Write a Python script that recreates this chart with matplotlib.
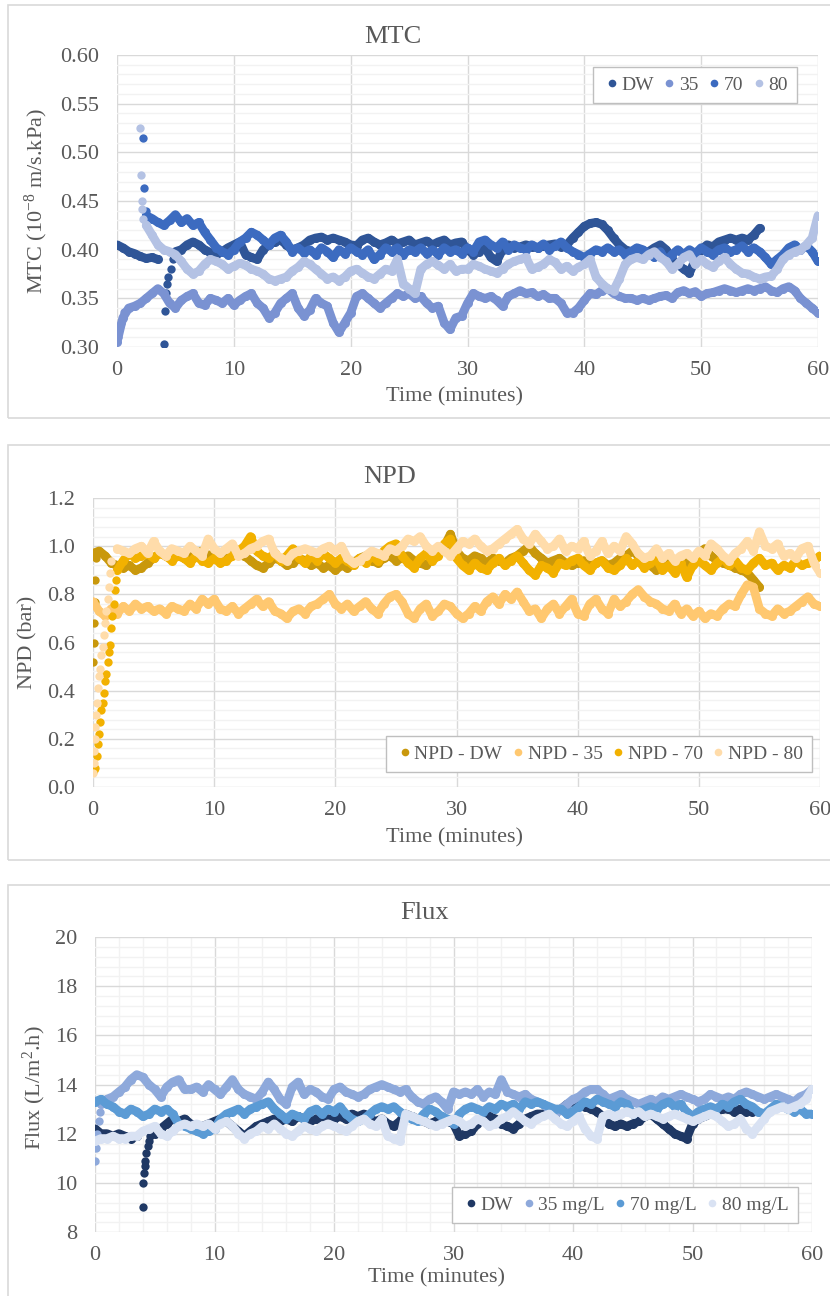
import numpy as np
import matplotlib
matplotlib.use('Agg')
import matplotlib.pyplot as plt
from matplotlib.ticker import MultipleLocator
from matplotlib.patches import Rectangle
from matplotlib.lines import Line2D

plt.rcParams['font.family'] = ['Liberation Serif', 'DejaVu Serif']
plt.rcParams['mathtext.fontset'] = 'custom'
plt.rcParams['mathtext.rm'] = 'Liberation Serif'
plt.rcParams['mathtext.it'] = 'Liberation Serif:italic'
plt.rcParams['mathtext.bf'] = 'Liberation Serif:bold'

# sampling grid, every half minute
time = np.arange(0, 60.01, 0.5)

# ---------------- MTC (10^-8 m/s.kPa) ----------------
mtc_dw = [0.405, 0.402, 0.398, 0.396, 0.393, 0.391, 0.392, 0.390, None, None,
          0.398, 0.400, 0.405, 0.408, 0.405, 0.400, 0.397, 0.395, 0.398, 0.402,
          0.405, 0.408, 0.395, 0.392, 0.390, 0.400, 0.405, 0.408, 0.410, 0.405,
          0.400, 0.402, 0.405, 0.410, 0.412, 0.413, 0.410, 0.412, 0.410, 0.408,
          0.405, 0.404, 0.410, 0.412, 0.408, 0.405, 0.407, 0.410, 0.406, 0.408,
          0.410, 0.405, 0.407, 0.409, 0.405, 0.408, 0.410, 0.405, 0.407, 0.408,
          0.400, 0.395, 0.398, 0.402, 0.392, 0.388, 0.400, 0.405, 0.402, 0.403,
          0.405, 0.403, 0.402, 0.404, 0.405, 0.406, 0.403, 0.405, 0.412, 0.418,
          0.424, 0.427, 0.428, 0.426, 0.420, 0.412, 0.405, 0.400, 0.398, 0.400,
          0.395, 0.398, 0.402, 0.405, 0.400, 0.390, 0.385, 0.380, 0.376, 0.390,
          0.400, 0.405, 0.403, 0.408, 0.410, 0.412, 0.410, 0.412, 0.410, 0.415,
          0.422]
mtc_dw_dip_t = [4.0, 4.1, 4.2, 4.3, 4.4, 4.6, 4.8]
mtc_dw_dip = [0.303, 0.337, 0.355, 0.365, 0.372, 0.380, 0.390]

mtc_35 = [0.305, 0.330, 0.340, 0.342, 0.345, 0.350, 0.355, 0.360, 0.355, 0.345,
          0.340, 0.348, 0.352, 0.355, 0.345, 0.343, 0.350, 0.348, 0.345, 0.350,
          0.343, 0.348, 0.352, 0.355, 0.345, 0.340, 0.330, 0.335, 0.345, 0.350,
          0.355, 0.340, 0.332, 0.338, 0.350, 0.345, 0.342, 0.325, 0.315, 0.325,
          0.335, 0.352, 0.355, 0.350, 0.345, 0.340, 0.345, 0.350, 0.355, 0.352,
          0.355, 0.350, 0.352, 0.345, 0.340, 0.342, 0.325, 0.318, 0.330, 0.332,
          0.345, 0.355, 0.352, 0.350, 0.352, 0.348, 0.342, 0.352, 0.355, 0.358,
          0.355, 0.356, 0.352, 0.354, 0.350, 0.350, 0.345, 0.335, 0.335, 0.340,
          0.348, 0.355, 0.354, 0.358, 0.360, 0.355, 0.352, 0.350, 0.350, 0.348,
          0.350, 0.348, 0.350, 0.352, 0.353, 0.350, 0.356, 0.358, 0.355, 0.357,
          0.352, 0.355, 0.356, 0.358, 0.360, 0.358, 0.356, 0.358, 0.360, 0.358,
          0.360, 0.362, 0.358, 0.356, 0.360, 0.362, 0.358, 0.350, 0.345, 0.340,
          0.335]
mtc_35_start_t = [0.1, 0.2, 0.3, 0.6]
mtc_35_start = [0.310, 0.318, 0.325, 0.336]

mtc_70 = [None, None, None, None, None, 0.435, 0.432, 0.428, 0.425, 0.430,
          0.436, 0.428, 0.432, 0.425, 0.428, 0.418, 0.410, 0.402, 0.398, 0.395,
          0.400, 0.408, 0.412, 0.418, 0.415, 0.410, 0.405, 0.412, 0.415, 0.408,
          0.398, 0.402, 0.397, 0.400, 0.395, 0.402, 0.398, 0.392, 0.400, 0.396,
          0.402, 0.398, 0.395, 0.400, 0.390, 0.395, 0.402, 0.398, 0.402, 0.395,
          0.400, 0.398, 0.402, 0.396, 0.400, 0.395, 0.402, 0.398, 0.400, 0.396,
          0.402, 0.398, 0.408, 0.410, 0.405, 0.402, 0.408, 0.400, 0.405, 0.402,
          0.400, 0.405, 0.402, 0.406, 0.400, 0.404, 0.408, 0.402, 0.398, 0.395,
          0.392, 0.396, 0.400, 0.398, 0.402, 0.398, 0.400, 0.395, 0.398, 0.402,
          0.400, 0.396, 0.392, 0.398, 0.388, 0.395, 0.400, 0.395, 0.400, 0.396,
          0.402, 0.398, 0.395, 0.400, 0.402, 0.398, 0.400, 0.404, 0.398, 0.402,
          0.398, 0.392, 0.385, 0.390, 0.395, 0.402, 0.405, 0.400, 0.404, 0.398,
          0.388]
mtc_70_start_t = [2.25, 2.35, 2.45]
mtc_70_start = [0.515, 0.463, 0.440]

mtc_80 = [None, None, None, None, None, 0.425, 0.415, 0.405, 0.400, 0.398,
          0.395, 0.388, 0.380, 0.375, 0.378, 0.385, 0.390, 0.388, 0.385, 0.380,
          0.383, 0.386, 0.384, 0.380, 0.378, 0.375, 0.370, 0.368, 0.370, 0.372,
          0.378, 0.382, 0.388, 0.385, 0.380, 0.375, 0.370, 0.372, 0.368, 0.372,
          0.378, 0.380, 0.376, 0.372, 0.370, 0.375, 0.380, 0.378, 0.390, 0.365,
          0.360, 0.355, 0.380, 0.385, 0.388, 0.384, 0.380, 0.385, 0.378, 0.380,
          0.380, 0.385, 0.383, 0.380, 0.378, 0.376, 0.380, 0.385, 0.388, 0.390,
          0.392, 0.380, 0.382, 0.385, 0.390, 0.387, 0.380, 0.383, 0.378, 0.382,
          0.385, 0.390, 0.372, 0.365, 0.360, 0.358, 0.370, 0.385, 0.390, 0.392,
          0.390, 0.395, 0.398, 0.392, 0.388, 0.380, 0.385, 0.392, 0.395, 0.385,
          0.390, 0.385, 0.382, 0.388, 0.392, 0.385, 0.380, 0.376, 0.375, 0.372,
          0.370, 0.372, 0.373, 0.380, 0.390, 0.395, 0.398, 0.400, 0.405, 0.412,
          0.435]
mtc_80_start_t = [2.0, 2.05, 2.1, 2.15, 2.25]
mtc_80_start = [0.525, 0.477, 0.450, 0.442, 0.432]

# ---------------- NPD (bar) ----------------
npd_dw = [0.97, 0.98, 0.96, 0.93, 0.92, 0.91, 0.92, 0.90, 0.91, 0.93,
          0.95, 0.97, 0.96, 0.98, 0.97, 0.95, 0.96, 0.97, 0.98, 0.96,
          0.97, 0.95, 0.96, 0.97, 0.98, 0.96, 0.94, 0.92, 0.91, 0.93,
          0.95, 0.94, 0.92, 0.93, 0.95, 0.94, 0.92, 0.93, 0.91, 0.92,
          0.90, 0.92, 0.91, 0.93, 0.95, 0.96, 0.94, 0.93, 0.95, 0.96,
          0.94, 0.95, 0.96, 0.94, 0.93, 0.92, 0.95, 0.97, 1.00, 1.05,
          0.98, 0.95, 0.94, 0.96, 0.95, 0.93, 0.95, 0.94, 0.93, 0.95,
          0.96, 0.98, 1.00, 0.97, 0.95, 0.93, 0.94, 0.95, 0.93, 0.92,
          0.93, 0.94, 0.92, 0.93, 0.94, 0.92, 0.93, 0.95, 0.96, 0.98,
          0.96, 0.94, 0.92, 0.90, 0.93, 0.95, 0.94, 0.92, 0.93, 0.95,
          0.97, 0.99, 0.96, 0.94, 0.93, 0.92, 0.91, 0.90, 0.89, 0.86,
          0.83]
npd_dw_start_t = [0.0, 0.05, 0.1, 0.15, 0.2, 0.25]
npd_dw_start = [0.52, 0.60, 0.68, 0.77, 0.86, 0.95]

npd_35 = [0.77, 0.73, 0.71, 0.74, 0.72, 0.75, 0.73, 0.76, 0.74, 0.75,
          0.73, 0.74, 0.72, 0.75, 0.74, 0.73, 0.76, 0.74, 0.78, 0.76,
          0.78, 0.74, 0.73, 0.75, 0.72, 0.74, 0.76, 0.78, 0.75, 0.77,
          0.73, 0.72, 0.70, 0.73, 0.74, 0.72, 0.75, 0.76, 0.78, 0.80,
          0.76, 0.74, 0.76, 0.73, 0.75, 0.77, 0.74, 0.72, 0.76, 0.79,
          0.80, 0.77, 0.72, 0.70, 0.74, 0.76, 0.71, 0.73, 0.76, 0.75,
          0.72, 0.70, 0.72, 0.75, 0.73, 0.77, 0.79, 0.76, 0.80, 0.78,
          0.81, 0.77, 0.73, 0.74, 0.70, 0.74, 0.76, 0.72, 0.75, 0.78,
          0.72, 0.71, 0.76, 0.78, 0.74, 0.72, 0.78, 0.75, 0.77, 0.80,
          0.82, 0.79, 0.77, 0.76, 0.74, 0.73, 0.76, 0.72, 0.74, 0.71,
          0.73, 0.70, 0.72, 0.71, 0.74, 0.76, 0.75, 0.80, 0.84, 0.83,
          0.74, 0.72, 0.71, 0.74, 0.72, 0.73, 0.75, 0.77, 0.79, 0.76,
          0.75]

npd_70 = [None, None, None, None, 0.90, 0.94, 0.97, 0.95, 0.96, 0.97,
          0.95, 0.97, 0.96, 0.94, 0.96, 0.95, 0.93, 0.96, 0.94, 0.93,
          0.95, 0.93, 0.94, 0.96, 0.98, 1.00, 1.04, 0.98, 0.96, 0.95,
          0.97, 0.94, 0.96, 0.99, 0.95, 0.93, 0.96, 0.94, 0.97, 0.95,
          0.93, 0.95, 0.94, 0.92, 0.95, 0.93, 0.96, 0.94, 0.98, 1.00,
          1.01, 0.96, 0.93, 0.91, 0.95, 0.97, 0.94, 0.96, 1.01, 1.03,
          0.95, 0.92, 0.90, 0.93, 0.91, 0.90, 0.93, 0.95, 0.92, 0.94,
          0.96, 0.93, 0.90, 0.88, 0.92, 0.91, 0.89, 0.93, 0.92, 0.94,
          0.95, 0.92, 0.90, 0.93, 0.94, 0.91, 0.90, 0.92, 0.95, 0.92,
          0.94, 0.91, 0.93, 0.95, 0.90, 0.92, 0.89, 0.93, 0.87, 0.92,
          0.94, 0.92, 0.90, 0.93, 0.95, 0.92, 0.94, 0.91, 0.90, 0.93,
          0.95, 0.92, 0.93, 0.90, 0.92, 0.91, 0.94, 0.92, 0.93, 0.94,
          0.96]
npd_70_start_t = [0.1, 0.2, 0.3, 0.4, 0.5, 0.6, 0.7, 0.8, 0.9, 1.0,
                  1.1, 1.2, 1.3, 1.4, 1.5, 1.6, 1.7, 1.8, 1.9]
npd_70_start = [0.07, 0.08, 0.13, 0.18, 0.22, 0.27, 0.32, 0.35, 0.39, 0.44,
                0.47, 0.52, 0.56, 0.59, 0.66, 0.71, 0.76, 0.82, 0.86]

npd_80 = [None, None, None, None, 0.99, 0.98, 0.97, 0.99, 1.00, 0.97,
          1.02, 0.98, 0.96, 0.99, 0.98, 0.97, 1.00, 0.98, 0.96, 1.03,
          0.99, 0.97, 0.99, 1.01, 0.96, 0.97, 0.99, 1.00, 1.02, 1.03,
          0.97, 0.95, 0.94, 0.97, 0.98, 0.99, 0.98, 0.97, 0.99, 1.00,
          0.98, 1.00, 0.95, 0.93, 0.94, 0.96, 0.98, 0.97, 0.96, 0.99,
          0.98, 1.00, 1.03, 1.02, 1.04, 1.00, 0.98, 1.00, 0.98, 0.96,
          0.99, 1.02, 1.01, 1.03, 1.00, 0.98, 0.99, 1.01, 1.03, 1.05,
          1.07, 1.03, 1.01, 1.05, 1.02, 0.99, 1.00, 1.03, 0.98, 1.00,
          0.99, 1.02, 0.96, 0.98, 1.02, 0.97, 1.00, 0.98, 1.04, 1.01,
          0.97, 0.95, 0.96, 0.99, 0.95, 0.97, 0.94, 0.96, 0.97, 0.95,
          0.98, 0.96, 1.01, 0.99, 0.96, 0.94, 0.97, 0.99, 1.02, 0.98,
          1.06, 1.00, 0.99, 1.01, 0.96, 0.97, 0.95, 0.99, 1.00, 0.93,
          0.89]
npd_80_start_t = [0.0, 0.05, 0.1, 0.15, 0.2, 0.25, 0.3, 0.4, 0.5, 0.6,
                  0.7, 0.8, 0.9, 1.0, 1.1, 1.2, 1.3, 1.4, 1.5]
npd_80_start = [0.06, 0.10, 0.15, 0.20, 0.25, 0.30, 0.35, 0.41, 0.46, 0.49,
                0.55, 0.58, 0.63, 0.68, 0.73, 0.78, 0.83, 0.89, 0.94]

# ---------------- Flux (L/m2.h) ----------------
flux_dw = [12.2, 12.0, 12.0, 11.9, 12.0, 11.9, 11.8, 11.9, None, None,
           12.0, 12.2, 12.4, 12.6, 12.5, 12.6, 12.4, 12.2, 12.3, 12.4,
           12.5, 12.6, 12.5, 12.3, 12.1, 11.9, 12.1, 12.3, 12.4, 12.5,
           12.6, 12.5, 12.6, 12.5, 12.7, 12.6, 12.5, 12.6, 12.7, 12.6,
           12.6, 12.7, 12.6, 12.8, 12.7, 12.8, 12.6, 12.5, 12.6, 12.4,
           12.3, 12.5, 12.8, 12.7, 12.6, 12.5, 12.4, 12.5, 12.6, 12.5,
           12.4, 11.9, 12.0, 12.1, 12.4, 12.6, 12.7, 12.6, 12.4, 12.3,
           12.2, 12.4, 12.6, 12.7, 12.8, 12.8, 12.9, 12.8, 13.0, 13.2,
           13.3, 13.2, 13.1, 13.0, 12.9, 12.7, 12.4, 12.3, 12.4, 12.3,
           12.4, 12.5, 12.7, 12.8, 12.6, 12.4, 12.2, 12.0, 11.9, 11.8,
           12.4, 12.6, 12.7, 12.8, 12.9, 13.0, 13.0, 12.9, 13.0, 12.9,
           12.9]
flux_dw_dip_t = [4.0, 4.05, 4.1, 4.15, 4.2, 4.3, 4.4, 4.5, 4.6, 4.75]
flux_dw_dip = [9.0, 10.0, 10.4, 10.7, 10.9, 11.2, 11.5, 11.7, 11.9, 12.0]

flux_35 = [None, 13.2, 13.4, 13.5, 13.7, 13.9, 14.2, 14.4, 14.3, 14.0,
           13.8, 13.5, 13.9, 14.1, 14.2, 13.8, 13.8, 13.9, 13.7, 14.0,
           13.8, 13.6, 13.9, 14.2, 13.8, 13.6, 13.5, 13.4, 13.7, 14.1,
           13.8, 13.4, 13.2, 13.9, 14.1, 13.6, 13.8, 13.7, 13.5, 13.4,
           13.8, 13.9, 13.7, 13.6, 13.5, 13.6, 13.8, 13.9, 14.0, 13.9,
           13.8, 13.7, 13.8, 13.5, 13.3, 13.2, 13.4, 13.5, 13.3, 13.0,
           13.7, 13.6, 13.7, 13.6, 13.8, 13.5, 13.7, 13.6, 14.2, 13.7,
           13.6, 13.5, 13.6, 13.4, 13.3, 13.2, 13.0, 12.8, 13.0, 13.2,
           13.4, 13.5, 13.7, 13.8, 13.8, 13.6, 13.4, 13.5, 13.6, 13.4,
           13.3, 13.2, 13.3, 13.4, 13.3, 13.5, 13.4, 13.5, 13.6, 13.5,
           13.4, 13.3, 13.4, 13.6, 13.5, 13.4, 13.5, 13.4, 13.6, 13.7,
           13.6, 13.5, 13.4, 13.5, 13.6, 13.5, 13.4, 13.3, 13.5, 13.6,
           13.8]
flux_35_start_t = [0.0, 0.1, 0.2, 0.3, 0.4]
flux_35_start = [10.9, 11.4, 12.0, 12.5, 12.9]

flux_70 = [13.3, 13.4, 13.2, 13.1, 12.9, 12.8, 13.0, 12.9, 12.7, 12.8,
           13.0, 12.9, 13.0, 12.8, 12.4, 12.3, 12.2, 12.1, 12.0, 12.1,
           12.2, 12.6, 12.8, 12.9, 13.0, 12.8, 13.0, 13.1, 13.2, 13.3,
           13.0, 12.8, 12.6, 12.8, 12.7, 12.6, 12.9, 13.0, 12.8, 13.0,
           12.9, 13.1, 12.8, 12.6, 12.5, 12.6, 12.8, 13.0, 13.1, 13.0,
           13.1, 12.9, 12.7, 12.6, 12.5, 12.8, 13.0, 12.9, 12.7, 12.6,
           12.4, 12.8, 13.0, 13.1, 13.0, 12.9, 13.1, 13.0, 13.2, 13.1,
           13.2, 13.0, 13.3, 13.2, 13.3, 13.2, 13.1, 13.0, 13.0, 12.8,
           12.9, 13.1, 13.3, 13.2, 13.4, 13.3, 13.2, 13.1, 13.3, 13.2,
           12.8, 12.9, 13.0, 13.1, 13.0, 13.2, 13.3, 13.1, 13.2, 12.9,
           12.7, 12.9, 13.0, 13.1, 13.0, 13.2, 13.1, 13.3, 13.4, 13.2,
           13.1, 12.9, 12.8, 13.0, 13.2, 13.1, 13.0, 12.9, 13.0, 12.8,
           12.8]

flux_80 = [11.7, 11.8, 11.8, 11.9, 11.8, 11.8, 11.9, 11.9, 12.1, 12.2,
           12.3, 12.0, 11.9, 12.1, 12.3, 12.4, 12.3, 12.4, 12.3, 12.4,
           12.2, 12.4, 12.5, 12.3, 12.0, 11.8, 12.0, 12.1, 12.3, 12.2,
           12.4, 12.2, 12.0, 11.9, 12.1, 12.3, 12.2, 12.1, 12.3, 12.4,
           12.3, 12.2, 12.1, 12.3, 12.5, 12.6, 12.4, 12.3, 12.6, 11.9,
           11.8, 11.7, 12.8, 12.7, 12.6, 12.5, 12.4, 12.3, 12.4, 12.5,
           12.6, 12.5, 12.3, 12.4, 12.6, 12.5, 12.3, 12.4, 12.6, 12.7,
           12.9, 12.7, 12.5, 12.4, 12.6, 12.7, 12.8, 12.6, 12.4, 12.3,
           12.5, 12.7, 12.2, 11.9, 11.8, 12.7, 12.8, 12.7, 12.8, 12.9,
           12.8, 12.9, 12.7, 12.8, 12.7, 12.6, 12.7, 12.8, 12.7, 12.6,
           12.5, 12.6, 12.7, 12.8, 12.7, 12.5, 12.3, 12.4, 12.6, 12.2,
           12.0, 12.3, 12.6, 12.9, 13.0, 13.1, 13.0, 13.1, 13.2, 13.4,
           13.8]

TEXT = '#595959'
W, H = 830, 1296


def fx(px):
    return px / W


def fy(py):
    return 1 - py / H


def band(ax, t, v, color):
    # dense Excel-style markers: round dots joined into a thick band
    v = np.array(v, dtype=float)
    ax.plot(np.asarray(t)[:len(v)], v, '-o', color=color, lw=6.3, ms=6.5, mew=0,
            solid_capstyle='round', solid_joinstyle='round', zorder=3)


def dots(ax, t, v, color):
    ax.scatter(t, v, s=36, color=color, linewidths=0, zorder=3)


def style_axis(ax, ylim, ymajor, yminor, xminor=None, fmt=None):
    ax.set_xlim(0, 60)
    ax.set_ylim(*ylim)
    ax.xaxis.set_major_locator(MultipleLocator(10))
    if xminor:
        ax.xaxis.set_minor_locator(MultipleLocator(xminor))
    ax.yaxis.set_major_locator(MultipleLocator(ymajor))
    ax.yaxis.set_minor_locator(MultipleLocator(yminor))
    if fmt:
        ax.yaxis.set_major_formatter(fmt)
    ax.grid(which='minor', color='#F2F2F2', lw=1)
    ax.grid(which='major', color='#D9D9D9', lw=1)
    ax.set_axisbelow(True)
    for s in ax.spines.values():
        s.set_visible(False)
    ax.tick_params(axis='y', which='both', length=0, labelsize=16, labelcolor=TEXT, pad=13)
    ax.tick_params(axis='x', which='both', length=0, labelsize=16, labelcolor=TEXT, pad=10)


def add_legend(ax, labels, colors, center):
    handles = [Line2D([], [], marker='o', ls='', ms=5.5, color=c, mec='none') for c in colors]
    leg = ax.legend(handles, labels, ncol=4, loc='center', bbox_to_anchor=center,
                    bbox_transform=ax.figure.transFigure, fancybox=False, framealpha=1,
                    edgecolor='#BFBFBF', fontsize=14, handletextpad=0.0,
                    columnspacing=0.3, handlelength=1.0, borderpad=0.45)
    leg.get_frame().set_linewidth(1)
    for txt in leg.get_texts():
        txt.set_color(TEXT)


fig = plt.figure(figsize=(8.3, 12.96), dpi=100)

# panel frames
for top, bot in [(5, 418), (445, 860), (885, 1310)]:
    fig.patches.append(Rectangle((fx(8), fy(bot)), 1.0, fy(top) - fy(bot),
                                 transform=fig.transFigure, fill=False,
                                 edgecolor='#D9D9D9', lw=1.2))

# ---- MTC ----
ax1 = fig.add_axes([fx(117), fy(347), fx(818) - fx(117), fy(55) - fy(347)])
style_axis(ax1, (0.30, 0.60), 0.05, 0.01, fmt='{x:.2f}')
mtc_colors = ['#2F5597', '#7A92D2', '#3C6BC0', '#B4C2E4']
band(ax1, time, mtc_dw, mtc_colors[0])
dots(ax1, mtc_dw_dip_t, mtc_dw_dip, mtc_colors[0])
band(ax1, time, mtc_35, mtc_colors[1])
dots(ax1, mtc_35_start_t, mtc_35_start, mtc_colors[1])
band(ax1, time, mtc_70, mtc_colors[2])
dots(ax1, mtc_70_start_t, mtc_70_start, mtc_colors[2])
band(ax1, time, mtc_80, mtc_colors[3])
dots(ax1, mtc_80_start_t, mtc_80_start, mtc_colors[3])
add_legend(ax1, ['DW', '35', '70', '80'], mtc_colors, (fx(695), fy(85)))
fig.text(fx(393), fy(37), 'MTC', ha='center', va='center', fontsize=19, color=TEXT)
fig.text(fx(36), fy(201), 'MTC (10$^{\\mathrm{-8}}$ m/s.kPa)', rotation=90, ha='center',
         va='center', fontsize=16, color=TEXT)
fig.text(fx(454), fy(397), 'Time (minutes)', ha='center', va='center', fontsize=16, color=TEXT)

# ---- NPD ----
ax2 = fig.add_axes([fx(93), fy(787), fx(820) - fx(93), fy(498) - fy(787)])
style_axis(ax2, (0.0, 1.2), 0.2, 0.04, fmt='{x:.1f}')
npd_colors = ['#C9980C', '#FFC870', '#F2B100', '#FFDCAA']
band(ax2, time, npd_dw, npd_colors[0])
dots(ax2, npd_dw_start_t, npd_dw_start, npd_colors[0])
band(ax2, time, npd_35, npd_colors[1])
band(ax2, time, npd_70, npd_colors[2])
dots(ax2, npd_70_start_t, npd_70_start, npd_colors[2])
band(ax2, time, npd_80, npd_colors[3])
dots(ax2, npd_80_start_t, npd_80_start, npd_colors[3])
add_legend(ax2, ['NPD - DW', 'NPD - 35', 'NPD - 70', 'NPD - 80'], npd_colors,
           (fx(599), fy(754)))
fig.text(fx(390), fy(477), 'NPD', ha='center', va='center', fontsize=19, color=TEXT)
fig.text(fx(28), fy(642), 'NPD (bar)', rotation=90, ha='center', va='center',
         fontsize=16, color=TEXT)
fig.text(fx(454), fy(838), 'Time (minutes)', ha='center', va='center', fontsize=16, color=TEXT)

# ---- Flux ----
ax3 = fig.add_axes([fx(95), fy(1232), fx(812) - fx(95), fy(937) - fy(1232)])
style_axis(ax3, (8, 20), 2, 0.4, xminor=2)
flux_colors = ['#1F3864', '#8EA9DB', '#5B9BD5', '#D9E2F3']
band(ax3, time, flux_dw, flux_colors[0])
dots(ax3, flux_dw_dip_t, flux_dw_dip, flux_colors[0])
band(ax3, time, flux_35, flux_colors[1])
dots(ax3, flux_35_start_t, flux_35_start, flux_colors[1])
band(ax3, time, flux_70, flux_colors[2])
band(ax3, time, flux_80, flux_colors[3])
add_legend(ax3, ['DW', '35 mg/L', '70 mg/L', '80 mg/L'], flux_colors,
           (fx(625), fy(1205)))
fig.text(fx(425), fy(913), 'Flux', ha='center', va='center', fontsize=19, color=TEXT)
fig.text(fx(34), fy(1088), 'Flux (L/m$^{\\mathrm{2}}$.h)', rotation=90, ha='center',
         va='center', fontsize=16, color=TEXT)
fig.text(fx(436), fy(1278), 'Time (minutes)', ha='center', va='center', fontsize=16, color=TEXT)

fig.savefig('out.png', dpi=100, facecolor='white')
